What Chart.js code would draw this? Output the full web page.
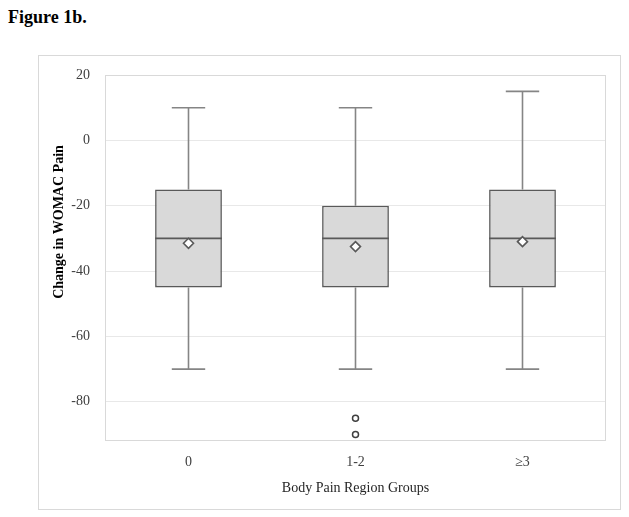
<!DOCTYPE html>
<html>
<head>
<meta charset="utf-8">
<script src="https://cdn.jsdelivr.net/npm/chart.js@4.4.1/dist/chart.umd.min.js"></script>
<style>
  body { margin: 0; background: #fff; width: 629px; height: 517px; position: relative; overflow: hidden; }
  #fig { position: absolute; left: 8px; top: 7px; font: bold 18px "Liberation Serif", "Times New Roman", serif; color: #000; }
  #box { position: absolute; left: 38px; top: 55px; width: 583px; height: 455px; border: 1px solid #d9d9d9; box-sizing: border-box; }
</style>
</head>
<body>
<div id="fig">Figure 1b.</div>
<div id="box"><canvas id="c" width="581" height="453"></canvas></div>
<script>
// box plot values
var groups = ["0", "1-2", "\u22653"];
var whiskerMax = [10, 10, 15];
var q3 = [-15, -20, -15];
var median = [-30, -30, -30];
var q1 = [-45, -45, -45];
var whiskerMin = [-70, -70, -70];
var means = [-31.5, -32.5, -31];
var outliers = [{ x: "1-2", y: -85 }, { x: "1-2", y: -90 }];
var yTicks = [20, 0, -20, -40, -60, -80];
var yTitle = "Change in WOMAC Pain";

var boxData = [];
for (var i = 0; i < groups.length; i++) {
    boxData.push([q1[i], q3[i]]);
}

var serif = "'Liberation Serif', 'Times New Roman', serif";

var boxParts = {
    id: "boxParts",
    beforeDatasetsDraw: function (chart) {
        var ctx = chart.ctx;
        var area = chart.chartArea;
        var y = chart.scales.y;
        var meta = chart.getDatasetMeta(0);
        ctx.save();
        // plot area frame
        ctx.strokeStyle = "#d9d9d9";
        ctx.lineWidth = 1;
        ctx.strokeRect(area.left + 0.5, area.top + 0.5, area.right - area.left - 1, area.bottom - area.top - 1);
        // whiskers
        ctx.strokeStyle = "#858585";
        ctx.lineWidth = 1.6;
        for (var i = 0; i < meta.data.length; i++) {
            var bar = meta.data[i];
            var cx = bar.x;
            var half = bar.width / 4;
            ctx.beginPath();
            ctx.moveTo(cx, y.getPixelForValue(q3[i]));
            ctx.lineTo(cx, y.getPixelForValue(whiskerMax[i]));
            ctx.moveTo(cx - half, y.getPixelForValue(whiskerMax[i]));
            ctx.lineTo(cx + half, y.getPixelForValue(whiskerMax[i]));
            ctx.moveTo(cx, y.getPixelForValue(q1[i]));
            ctx.lineTo(cx, y.getPixelForValue(whiskerMin[i]));
            ctx.moveTo(cx - half, y.getPixelForValue(whiskerMin[i]));
            ctx.lineTo(cx + half, y.getPixelForValue(whiskerMin[i]));
            ctx.stroke();
        }
        ctx.restore();
    },
    afterDatasetDraw: function (chart, args) {
        if (args.index !== 0) return;
        var ctx = chart.ctx;
        var y = chart.scales.y;
        var meta = chart.getDatasetMeta(0);
        ctx.save();
        ctx.strokeStyle = "#595959";
        ctx.lineWidth = 1.6;
        for (var i = 0; i < meta.data.length; i++) {
            var bar = meta.data[i];
            var py = y.getPixelForValue(median[i]);
            ctx.beginPath();
            ctx.moveTo(bar.x - bar.width / 2, py);
            ctx.lineTo(bar.x + bar.width / 2, py);
            ctx.stroke();
        }
        ctx.restore();
    },
    afterDraw: function (chart) {
        // y axis title sits a bit above the axis centre, as in the figure
        var ctx = chart.ctx;
        ctx.save();
        ctx.translate(20, chart.chartArea.top + 147);
        ctx.rotate(-Math.PI / 2);
        ctx.font = "bold 14px " + serif;
        ctx.fillStyle = "#000";
        ctx.textAlign = "center";
        ctx.textBaseline = "middle";
        ctx.fillText(yTitle, 0, 0);
        ctx.restore();
    }
};

new Chart(document.getElementById("c"), {
    type: "bar",
    data: {
        labels: groups,
        datasets: [{
            data: boxData,
            backgroundColor: "#d9d9d9",
            borderColor: "#595959",
            borderWidth: 1.6,
            borderSkipped: false,
            barPercentage: 0.4,
            categoryPercentage: 1,
            order: 2
        }, {
            type: "line",
            data: means,
            showLine: false,
            pointStyle: "rectRot",
            pointRadius: 5,
            pointBackgroundColor: "#fff",
            pointBorderColor: "#595959",
            pointBorderWidth: 1.6,
            order: 1
        }, {
            type: "line",
            data: outliers,
            showLine: false,
            pointStyle: "circle",
            pointRadius: 3,
            pointBackgroundColor: "#fff",
            pointBorderColor: "#404040",
            pointBorderWidth: 1.5,
            order: 0
        }]
    },
    options: {
        responsive: false,
        animation: false,
        layout: { padding: { top: 19, right: 14, left: 0, bottom: 8 } },
        plugins: {
            legend: { display: false },
            tooltip: { enabled: false }
        },
        scales: {
            x: {
                afterFit: function (s) { s.height = 60; s.paddingLeft = 0; s.paddingRight = 0; },
                grid: { display: false },
                border: { display: false },
                ticks: { color: "#404040", font: { family: serif, size: 14 }, padding: 5 },
                title: { display: true, text: "Body Pain Region Groups", color: "#262626", font: { family: serif, size: 14 }, padding: { top: 8 } }
            },
            y: {
                min: -92,
                max: 20,
                afterFit: function (s) { s.width = 66; s.paddingTop = 0; s.paddingBottom = 0; },
                afterBuildTicks: function (scale) {
                    scale.ticks = yTicks.map(function (v) { return { value: v }; });
                },
                grid: { color: "#e8e8e8", drawTicks: false },
                border: { display: false },
                ticks: { color: "#404040", font: { family: serif, size: 14 }, padding: 15 }
            }
        }
    },
    plugins: [boxParts]
});
</script>
</body>
</html>
